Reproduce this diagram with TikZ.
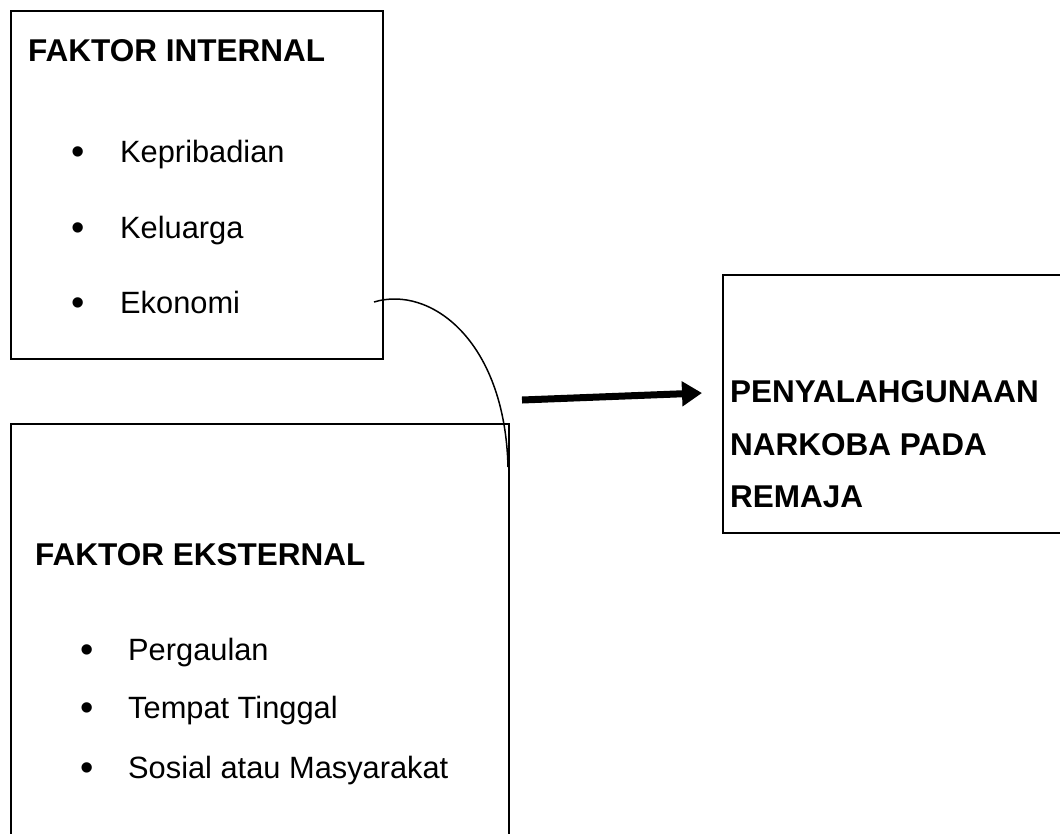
\documentclass[tikz,border=0pt]{standalone}
\usepackage{fontspec}
\setmainfont{Liberation Sans}
\usetikzlibrary{arrows.meta}
\begin{document}
\begin{tikzpicture}[x=1pt,y=-1pt,
  box/.style={draw,line width=2.3pt,inner sep=0pt,anchor=north west},
  txt/.style={anchor=base west,inner sep=0pt,font=\fontsize{30.8}{36}\selectfont},
  hd/.style={anchor=base west,inner sep=0pt,font=\fontsize{31.5}{36}\selectfont\bfseries},
  bul/.style={anchor=base,inner sep=0pt,font=\fontsize{38}{40}\selectfont},
  link/.style={line width=1.5pt},
  bigarrow/.style={line width=7pt,-{Triangle[length=20pt,width=24pt]}}]
\useasboundingbox (0,0) rectangle (1060,833);
\clip (0,0) rectangle (1060,833);
% boxes
\node[box,minimum width=372pt,minimum height=348pt] (b1) at (10,10) {};
\node[box,minimum width=498pt,minimum height=430pt] (b2) at (10,423) {};
\node[box,minimum width=360pt,minimum height=258pt] (b3) at (722,274) {};
% box 1 text
\node[hd] (h1) at (28,61) {FAKTOR INTERNAL};
\node[bul] (d11) at (78,164) {•};
\node[txt] (t11) at (120,162) {Kepribadian};
\node[bul] (d12) at (78,240) {•};
\node[txt] (t12) at (120,238) {Keluarga};
\node[bul] (d13) at (78,315) {•};
\node[txt] (t13) at (120,313) {Ekonomi};
% box 2 text
\node[hd] (h2) at (35,565) {FAKTOR EKSTERNAL};
\node[bul] (d21) at (87,662) {•};
\node[txt] (t21) at (128,660) {Pergaulan};
\node[bul] (d22) at (87,720) {•};
\node[txt] (t22) at (128,718) {Tempat Tinggal};
\node[bul] (d23) at (87,780) {•};
\node[txt] (t23) at (128,778) {Sosial atau Masyarakat};
% box 3 text
\node[hd] (h31) at (730,402) {PENYALAHGUNAAN};
\node[hd] (h32) at (730,455) {NARKOBA PADA};
\node[hd] (h33) at (730,507) {REMAJA};
% connectors
\coordinate (cS) at (374,302);
\coordinate (cE) at (508,467);
\draw[link] (cS) .. controls (430,285) and (505,340) .. (cE);
\coordinate (aS) at (522,400);
\coordinate (aE) at (702,393);
\draw[bigarrow] (aS) -- (aE);
\end{tikzpicture}
\end{document}
